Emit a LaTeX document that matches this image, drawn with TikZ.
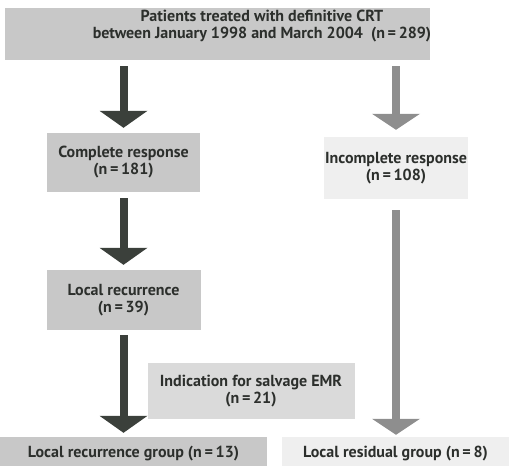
\documentclass[tikz,border=0pt]{standalone}
\usepackage{fontspec}
\setmainfont{PT Sans}
\usetikzlibrary{arrows.meta}
\definecolor{arrowdark}{HTML}{3B403B}
\definecolor{arrowlight}{HTML}{8E8E8E}
\definecolor{boxdark}{HTML}{C8C8C8}
\definecolor{boxmid}{HTML}{DADADA}
\definecolor{boxlight}{HTML}{EFEFEF}
\definecolor{txt}{HTML}{2C2F2C}
\tikzset{
	box/.style={fill=#1, inner sep=0pt, align=center, text=txt},
	darkarrow/.style={draw=arrowdark, line width=8pt, -{Triangle[width=48pt,length=17pt,line width=0pt]}},
	lightarrow/.style={draw=arrowlight, line width=8pt, -{Triangle[width=48pt,length=16pt,line width=0pt]}},
}
\begin{document}
\begin{tikzpicture}[x=1pt,y=-1pt,font=\fontsize{16}{17}\selectfont\bfseries]
		\useasboundingbox (0,0) rectangle (509,466);

		\node[box=boxdark, minimum width=425pt, minimum height=52pt] (top) at (217.5,34) {};
		\node[text=txt, align=center] (toptext) at (262,26) {Patients treated with definitive CRT\\between January 1998 and March 2004\ \ (n\,=\,289)};

		\node[box=boxdark, minimum width=153pt, minimum height=59pt] (cr) at (123.5,162.5) {Complete response\\(n\,=\,181)};
		\node[box=boxlight, minimum width=144pt, minimum height=62pt] (ir) at (396,168) {Incomplete response\\(n\,=\,108)};

		\node[box=boxdark, minimum width=154pt, minimum height=60pt] (lr) at (123.5,300) {Local recurrence\\(n\,=\,39)};
		\node[box=boxmid, minimum width=207pt, minimum height=56pt] (emr) at (251,391) {Indication for salvage EMR\\(n\,=\,21)};

		\node[box=boxdark, minimum width=267pt, minimum height=33pt] (lrg) at (133.5,453.5) {Local recurrence group (n\,=\,13)};
		\node[box=boxlight, minimum width=227pt, minimum height=33pt] (lrsg) at (395.5,453.5) {Local residual group (n\,=\,8)};

		\draw[darkarrow, shorten <=6pt, shorten >=5pt] (top.south -| cr.north) -- (cr.north);
		\draw[lightarrow, shorten <=6pt, shorten >=7pt] (top.south -| ir.north) -- (ir.north);
		\draw[darkarrow, shorten <=6pt, shorten >=5pt] (cr.south) -- (cr.south |- lr.north);
		\draw[lightarrow, shorten <=11pt, shorten >=2pt] (ir.south) -- (ir.south |- lrsg.north);
		\draw[darkarrow, shorten <=5pt, shorten >=4pt] (lr.south) -- (lr.south |- lrg.north);

	\end{tikzpicture}
\end{document}
